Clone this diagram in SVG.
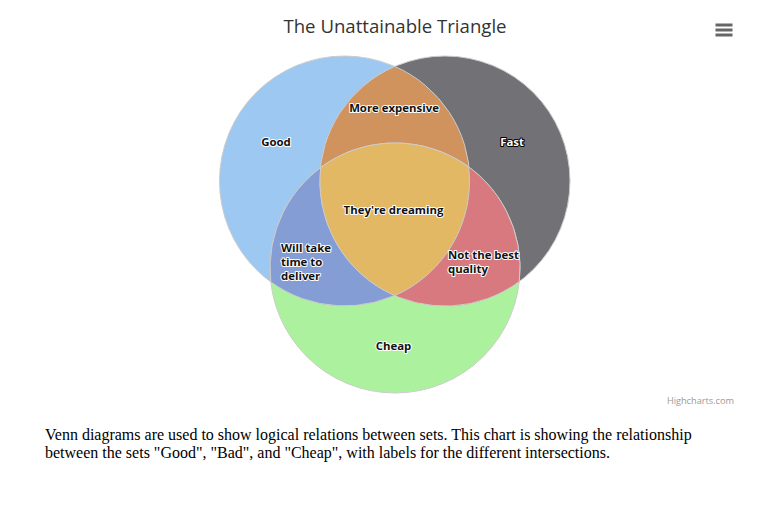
<svg xmlns="http://www.w3.org/2000/svg" width="774" height="516" viewBox="0 0 774 516">
<style>
.region{stroke:#cccccc;stroke-width:1}
.lbl{font-family:"Open Sans","DejaVu Sans",sans-serif;font-size:11.4px;font-weight:bold;fill:#111111;stroke:#ffffff;stroke-width:2px;stroke-linejoin:round;paint-order:stroke}
.lbl-dark{fill:#ffffff;stroke:#000000}
</style>
<rect width="774" height="516" fill="#ffffff"/>
<text x="395" y="33" text-anchor="middle" font-family="Open Sans, DejaVu Sans, sans-serif" font-size="18.6" fill="#333333">The Unattainable Triangle</text>
<g id="menu" stroke="#666666" stroke-width="3">
<line x1="715.5" y1="25" x2="732.5" y2="25"/>
<line x1="715.5" y1="30" x2="732.5" y2="30"/>
<line x1="715.5" y1="35" x2="732.5" y2="35"/>
</g>
<g id="connectors"></g>
<g id="good"><circle class="region" cx="344.5" cy="181" r="125" fill="#9dc8f1"/></g>
<g id="fast"><circle class="region" cx="445" cy="181" r="125" fill="#727276"/></g>
<g id="cheap"><circle class="region" cx="395" cy="268" r="125" fill="#acf29e"/></g>
<g id="good-fast"><path class="region" fill="#d0935e" d="M394.75,66.4 A125,125 0 0 1 394.75,295.6 A125,125 0 0 1 394.75,66.4 Z"/></g>
<g id="good-cheap"><path class="region" fill="#859dd5" d="M270.8,281.9 A125,125 0 0 1 468.7,167.1 A125,125 0 0 1 270.8,281.9 Z"/></g>
<g id="fast-cheap"><path class="region" fill="#d7797f" d="M320.7,167.4 A125,125 0 0 1 519.3,281.6 A125,125 0 0 1 320.7,167.4 Z"/></g>
<g id="all"><path class="region" fill="#e2b864" d="M320.7,167.4 A125,125 0 0 1 468.7,167.1 A125,125 0 0 1 394.75,295.6 A125,125 0 0 1 320.7,167.4 Z"/></g>
<g id="labels">
<text class="lbl" x="276" y="146" text-anchor="middle">Good</text>
<text class="lbl lbl-dark" x="512" y="146" text-anchor="middle">Fast</text>
<text class="lbl" x="394" y="112" text-anchor="middle">More expensive</text>
<text class="lbl" x="393.5" y="214" text-anchor="middle">They're dreaming</text>
<text class="lbl" x="393.5" y="350" text-anchor="middle">Cheap</text>
<text class="lbl" x="281" y="252">Will take</text>
<text class="lbl" x="281" y="266">time to</text>
<text class="lbl" x="281" y="280">deliver</text>
<text class="lbl" x="448" y="259">Not the best</text>
<text class="lbl" x="448" y="273">quality</text>
</g>
<text x="734" y="404" text-anchor="end" font-family="Open Sans, DejaVu Sans, sans-serif" font-size="9.2" fill="#999999">Highcharts.com</text>
<g font-family="Liberation Serif, serif" font-size="16" fill="#000000">
<text x="45" y="440">Venn diagrams are used to show logical relations between sets. This chart is showing the relationship</text>
<text x="45" y="458">between the sets "Good", "Bad", and "Cheap", with labels for the different intersections.</text>
</g>
</svg>
